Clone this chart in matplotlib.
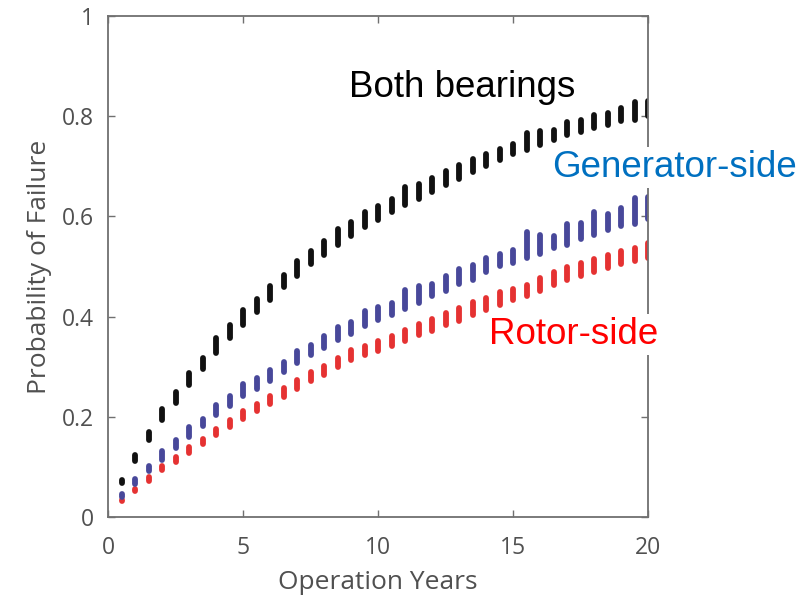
import numpy as np
import matplotlib
matplotlib.use('Agg')
import matplotlib.pyplot as plt

years = [0.5, 1.0, 1.5, 2.0, 2.5, 3.0, 3.5, 4.0, 4.5, 5.0,
         5.5, 6.0, 6.5, 7.0, 7.5, 8.0, 8.5, 9.0, 9.5, 10.0,
         10.5, 11.0, 11.5, 12.0, 12.5, 13.0, 13.5, 14.0, 14.5, 15.0,
         15.5, 16.0, 16.5, 17.0, 17.5, 18.0, 18.5, 19.0, 19.5, 20.0]

# spread of simulated failure probability at each year (low / high)
both_lo = [0.062, 0.106, 0.148, 0.188, 0.222, 0.259, 0.291, 0.323, 0.353, 0.379,
           0.405, 0.429, 0.455, 0.477, 0.501, 0.519, 0.539, 0.557, 0.573, 0.587,
           0.603, 0.617, 0.629, 0.643, 0.657, 0.669, 0.683, 0.695, 0.707, 0.719,
           0.727, 0.737, 0.747, 0.758, 0.764, 0.772, 0.778, 0.786, 0.788, 0.796]
both_hi = [0.078, 0.128, 0.174, 0.220, 0.255, 0.293, 0.323, 0.363, 0.389, 0.419,
           0.441, 0.467, 0.489, 0.517, 0.537, 0.557, 0.579, 0.593, 0.613, 0.625,
           0.639, 0.663, 0.669, 0.681, 0.695, 0.707, 0.719, 0.729, 0.739, 0.749,
           0.772, 0.776, 0.778, 0.794, 0.798, 0.808, 0.812, 0.822, 0.834, 0.836]

gen_lo = [0.034, 0.060, 0.086, 0.108, 0.132, 0.154, 0.176, 0.198, 0.216, 0.236,
          0.251, 0.267, 0.285, 0.303, 0.319, 0.333, 0.349, 0.361, 0.377, 0.389,
          0.399, 0.411, 0.423, 0.437, 0.447, 0.461, 0.469, 0.485, 0.497, 0.503,
          0.513, 0.521, 0.533, 0.539, 0.551, 0.559, 0.567, 0.575, 0.579, 0.589]
gen_hi = [0.050, 0.080, 0.106, 0.136, 0.158, 0.184, 0.200, 0.228, 0.246, 0.270,
          0.283, 0.299, 0.315, 0.337, 0.349, 0.367, 0.385, 0.395, 0.417, 0.425,
          0.433, 0.459, 0.467, 0.471, 0.487, 0.501, 0.509, 0.523, 0.531, 0.539,
          0.575, 0.569, 0.567, 0.589, 0.591, 0.613, 0.609, 0.621, 0.641, 0.643]

rotor_lo = [0.026, 0.046, 0.066, 0.088, 0.104, 0.122, 0.140, 0.158, 0.174, 0.190,
            0.206, 0.220, 0.235, 0.251, 0.267, 0.279, 0.295, 0.309, 0.319, 0.327,
            0.337, 0.347, 0.359, 0.367, 0.379, 0.387, 0.399, 0.409, 0.419, 0.428,
            0.437, 0.447, 0.459, 0.469, 0.477, 0.485, 0.493, 0.501, 0.507, 0.513]
rotor_hi = [0.038, 0.060, 0.084, 0.106, 0.124, 0.144, 0.160, 0.180, 0.198, 0.216,
            0.230, 0.247, 0.263, 0.279, 0.295, 0.307, 0.323, 0.339, 0.347, 0.357,
            0.367, 0.379, 0.391, 0.401, 0.413, 0.423, 0.435, 0.443, 0.455, 0.461,
            0.469, 0.483, 0.495, 0.505, 0.513, 0.521, 0.529, 0.537, 0.543, 0.553]

gray = '#505050'

fig = plt.figure(figsize=(8, 5.99), dpi=100)
ax = fig.add_axes([0.135, 0.137, 0.675, 0.836])

cap = 0.005  # round caps stick out past the ends
for lo, hi, col in [(rotor_lo, rotor_hi, '#e53232'),
                    (gen_lo, gen_hi, '#48489a'),
                    (both_lo, both_hi, '#111111')]:
    lo = np.array(lo) + cap
    hi = np.array(hi) - cap
    ax.vlines(years, lo, hi, colors=col, linewidth=4.2, capstyle='round', zorder=2)

ax.set_xlim(0, 20)
ax.set_ylim(0, 1)
ax.set_xticks([0, 5, 10, 15, 20])
ax.set_yticks([0, 0.2, 0.4, 0.6, 0.8, 1])
ax.set_yticklabels(['0', '0.2', '0.4', '0.6', '0.8', '1'])
ax.tick_params(direction='in', length=5, width=1, colors='#707070',
               labelcolor=gray, labelsize=16.5, top=True, right=True)
ax.tick_params(axis='x', pad=14)
ax.tick_params(axis='y', pad=10)
for lab in ax.get_xticklabels() + ax.get_yticklabels():
    lab.set_family('Open Sans')
for s in ax.spines.values():
    s.set_color('#707070')
    s.set_linewidth(1.3)

ax.set_xlabel('Operation Years', fontsize=19, color=gray, family='Open Sans', labelpad=7)
ax.set_ylabel('Probability of Failure', fontsize=19, color=gray, family='Open Sans', labelpad=7)

box = dict(facecolor='white', edgecolor='none', pad=2)
ax.text(13.1, 0.858, 'Both bearings', fontsize=26.5, family='Liberation Sans',
        color='black', ha='center', va='center', bbox=box, zorder=4)
ax.text(16.44, 0.697, 'Generator-side', fontsize=26.5, family='Liberation Sans',
        color='#0070c0', ha='left', va='center', bbox=box, zorder=4, clip_on=False)
ax.text(14.11, 0.365, 'Rotor-side', fontsize=26.5, family='Liberation Sans',
        color='#ff0000', ha='left', va='center', bbox=box, zorder=4, clip_on=False)

fig.savefig('out.png', dpi=100)
